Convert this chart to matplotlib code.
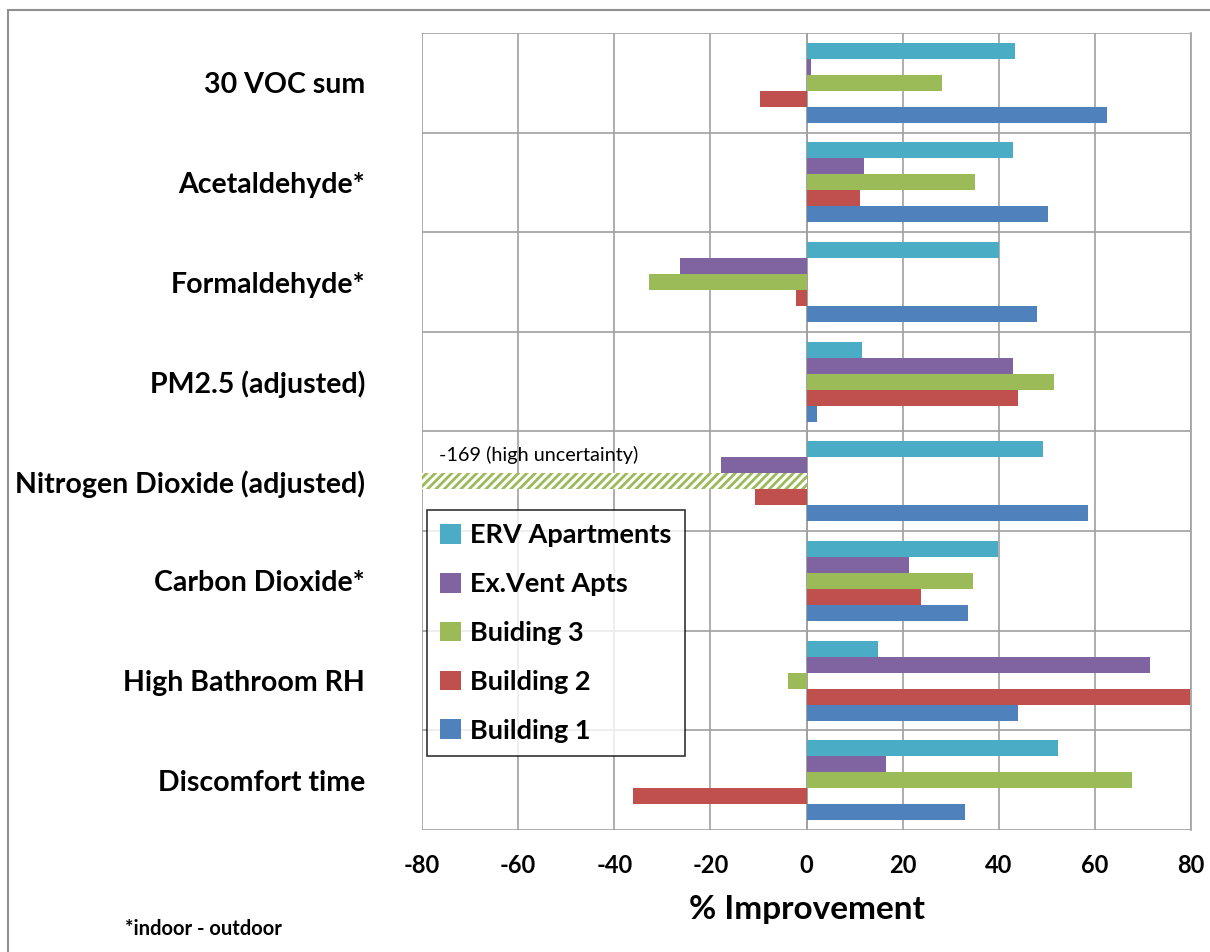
import matplotlib.pyplot as plt
import matplotlib.patches as mpatches
import numpy as np

plt.rcParams['font.family'] = ['Lato', 'DejaVu Sans']
plt.rcParams['hatch.linewidth'] = 2.0

categories = ['30 VOC sum', 'Acetaldehyde*', 'Formaldehyde*', 'PM2.5 (adjusted)',
              'Nitrogen Dioxide (adjusted)', 'Carbon Dioxide*', 'High Bathroom RH',
              'Discomfort time']
series = ['ERV Apartments', 'Ex.Vent Apts', 'Buiding 3', 'Building 2', 'Building 1']
erv = [43.3, 42.9, 40.0, 11.5, 49.2, 39.8, 14.8, 52.4]
exvent = [0.9, 12.0, -26.3, 42.9, -17.7, 21.3, 71.4, 16.6]
bldg3 = [28.2, 35.1, -32.8, 51.4, -169, 34.7, -3.9, 67.8]
bldg2 = [-9.7, 11.2, -2.2, 44.0, -10.7, 23.8, 79.8, -36.1]
bldg1 = [62.6, 50.3, 48.0, 2.1, 58.6, 33.6, 43.9, 33.0]
values = [erv, exvent, bldg3, bldg2, bldg1]
colors = ['#4BACC6', '#8064A2', '#9BBB59', '#C0504D', '#4F81BD']

fig = plt.figure(figsize=(12.1, 9.52), dpi=100)
ax = fig.add_axes([0.3488, 0.128, 0.6355, 0.8375])

h = 0.16
y = np.arange(len(categories))
for k in range(len(series)):
    off = (k - 2) * h
    for i in range(len(categories)):
        v = values[k][i]
        if v < -80:
            # out of range value, drawn hatched
            ax.barh(y[i] + off, v, height=h, facecolor='white', edgecolor=colors[k],
                    linewidth=0, hatch='////', zorder=3)
        else:
            ax.barh(y[i] + off, v, height=h, color=colors[k], zorder=3,
                    label=series[k] if i == 0 else None)

ax.set_xlim(-80, 80)
ax.set_ylim(len(categories) - 0.5, -0.5)
ax.set_xticks(np.arange(-80, 81, 20))
ax.set_xticklabels([str(t) for t in range(-80, 81, 20)], fontsize=17, fontweight='bold')
ax.set_yticks(y)
ax.set_yticklabels(categories, fontsize=20.5, fontweight='bold')
ax.set_yticks(np.arange(-0.5, len(categories), 1), minor=True)
ax.tick_params(axis='y', which='both', length=0, pad=41)
ax.tick_params(axis='x', length=0, pad=17)
ax.grid(axis='x', color='#A0A0A0', linewidth=1.2, zorder=0)
ax.grid(axis='y', which='minor', color='#A0A0A0', linewidth=1.2, zorder=0)
for s in ax.spines.values():
    s.set_visible(False)
ax.axvline(0, color='#A0A0A0', linewidth=1.2, zorder=1)

ax.set_xlabel('% Improvement', fontsize=24, fontweight='bold', labelpad=13)

ax.text(-76.5, 4 - 0.26, '-169 (high uncertainty)', fontsize=14.3, va='center', ha='left')

leg = ax.legend(loc='upper left', bbox_to_anchor=(0.006, 0.402),
                prop={'weight': 'bold', 'size': 19.5}, frameon=True, fancybox=False,
                edgecolor='black', labelspacing=0.92, handlelength=0.75,
                handleheight=0.75, handletextpad=0.35, borderpad=0.5, borderaxespad=0)
leg.get_frame().set_linewidth(1.2)
leg.set_zorder(5)

fig.text(0.103, 0.018, '*indoor - outdoor', fontsize=14.5, fontweight='bold')
fig.patches.append(mpatches.Rectangle((0.007, -0.01), 1.0, 1.0 - 0.001, transform=fig.transFigure,
                                      fill=False, edgecolor='#909090', linewidth=1.5))
ax.plot([1, 1], [0, 1], transform=ax.transAxes, color='#A0A0A0', linewidth=1.2, clip_on=False)

fig.savefig('out.png', dpi=100)
